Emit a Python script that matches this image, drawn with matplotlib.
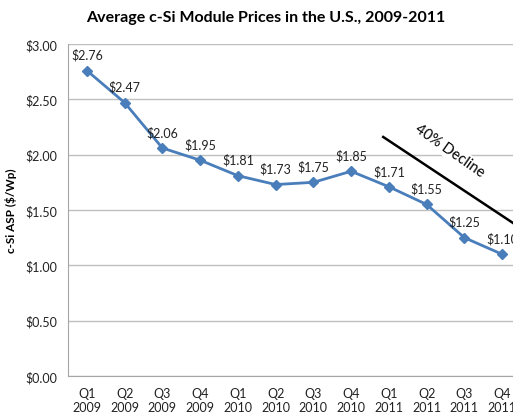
import numpy as np
import matplotlib
matplotlib.use("Agg")
import matplotlib.pyplot as plt

plt.rcParams['font.family'] = ['Lato', 'DejaVu Sans']

# Datos
trimestres = ['Q1\n2009', 'Q2\n2009', 'Q3\n2009', 'Q4\n2009',
              'Q1\n2010', 'Q2\n2010', 'Q3\n2010', 'Q4\n2010',
              'Q1\n2011', 'Q2\n2011', 'Q3\n2011', 'Q4\n2011']
precios = [2.76, 2.47, 2.06, 1.95, 1.81, 1.73, 1.75, 1.85, 1.71, 1.55, 1.25, 1.10]
yticks = [0.0, 0.5, 1.0, 1.5, 2.0, 2.5, 3.0]

# Linea de tendencia anotada (en coordenadas de datos)
linea_x = [7.85, 11.3]
linea_y = [2.16, 1.38]

fig = plt.figure(figsize=(5.13, 4.14), dpi=100)
ax = fig.add_axes([68 / 513, 37 / 414, 453 / 513, 332 / 414])

x = np.arange(len(precios))
azul = '#4A7EBB'
ax.plot(x, precios, color=azul, lw=2, marker='D', ms=5.5, zorder=3)

for xi, p in zip(x, precios):
    ax.annotate(f"\\${p:.2f}", (xi, p), xytext=(0, 7), textcoords='offset points',
                ha='center', va='bottom', fontsize=9, color='#222222',
                annotation_clip=False)

ax.set_xlim(-0.5, len(precios) - 0.5)
ax.set_ylim(0, 3.0)
ax.set_yticks(yticks)
ax.set_yticklabels([f"\\${v:.2f}" for v in yticks], fontsize=9, color='#222222')
ax.set_xticks(x)
ax.set_xticklabels(trimestres, fontsize=9, color='#222222')
ax.tick_params(axis='both', length=0, pad=8)

ax.grid(axis='y', color='#BFBFBF', lw=1)
ax.set_axisbelow(True)
for s in ['top', 'right']:
    ax.spines[s].set_visible(False)
for s in ['left', 'bottom']:
    ax.spines[s].set_color('#A6A6A6')

ax.set_ylabel("c-Si ASP (\\$/Wp)", fontsize=8.5, fontweight='bold', labelpad=6)

ax.plot(linea_x, linea_y, color='black', lw=1.8, clip_on=False, zorder=4)
ax.text(9.6, 2.04, "40% Decline", rotation=-35, fontsize=10.5, ha='center', va='center',
        rotation_mode='anchor', bbox=dict(facecolor='white', edgecolor='none', pad=1), zorder=2)

fig.text(266 / 513, 1 - 18 / 414, "Average c-Si Module Prices in the U.S., 2009-2011",
         ha='center', va='center', fontsize=11.5, fontweight='bold')

fig.savefig('out.png', dpi=100)
